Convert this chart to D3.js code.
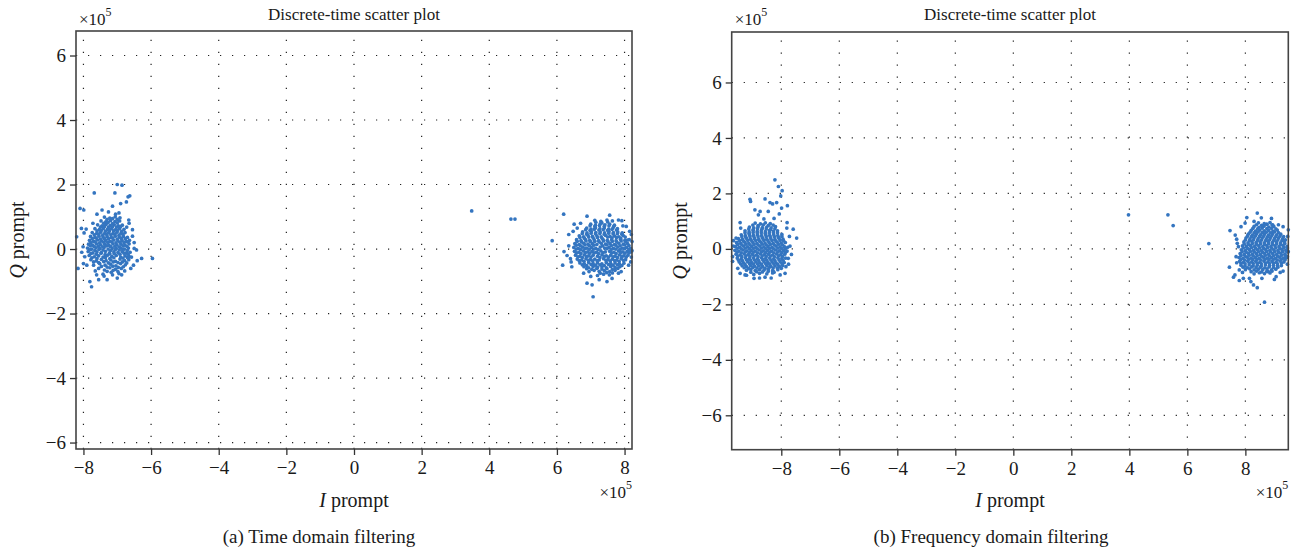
<!DOCTYPE html>
<html><head><meta charset="utf-8">
<script src="https://cdn.jsdelivr.net/npm/d3@7"></script>
<style>
body{margin:0;background:#fff}
svg{display:block}
text{font-family:"Liberation Serif","DejaVu Serif",serif;fill:#1a1a1a}
</style>
</head><body>
<svg id="c" width="1298" height="555"></svg>
<script>
const xTicks = [-8,-6,-4,-2,0,2,4,6,8];
const yTicks = [-6,-4,-2,0,2,4,6];
const titleText = "Discrete-time scatter plot";
const captions = ["(a) Time domain filtering", "(b) Frequency domain filtering"];

const timeLeft = [
[-7.42,-0.78],[-7.18,-0.72],[-6.95,-0.76],
[-7.55,-0.6],[-7.38,-0.65],[-7.22,-0.58],[-7.05,-0.63],[-6.88,-0.6],
[-7.7,-0.5],[-7.52,-0.45],[-7.36,-0.5],[-7.2,-0.47],[-7.04,-0.52],[-6.9,-0.45],[-6.76,-0.49],
[-7.78,-0.33],[-7.62,-0.37],[-7.47,-0.32],[-7.33,-0.36],[-7.19,-0.34],[-7.05,-0.38],[-6.92,-0.31],[-6.78,-0.36],[-6.66,-0.33],
[-7.83,-0.2],[-7.68,-0.24],[-7.55,-0.21],[-7.42,-0.25],[-7.29,-0.19],[-7.16,-0.23],[-7.03,-0.2],[-6.9,-0.25],[-6.77,-0.21],[-6.65,-0.23],
[-7.86,-0.08],[-7.72,-0.12],[-7.6,-0.09],[-7.47,-0.11],[-7.35,-0.07],[-7.23,-0.12],[-7.1,-0.09],[-6.98,-0.11],[-6.85,-0.08],[-6.73,-0.12],[-6.62,-0.1],
[-7.88,0.03],[-7.75,0.0],[-7.63,0.04],[-7.51,0.01],[-7.39,0.05],[-7.27,0.0],[-7.15,0.03],[-7.03,0.01],[-6.91,0.04],[-6.79,0.0],[-6.67,0.03],
[-7.85,0.15],[-7.73,0.12],[-7.61,0.16],[-7.49,0.13],[-7.37,0.15],[-7.25,0.12],[-7.13,0.16],[-7.01,0.13],[-6.89,0.15],[-6.77,0.12],[-6.65,0.16],
[-7.82,0.27],[-7.7,0.24],[-7.58,0.28],[-7.46,0.25],[-7.34,0.27],[-7.22,0.24],[-7.1,0.28],[-6.98,0.25],[-6.86,0.27],[-6.74,0.24],[-6.64,0.27],
[-7.79,0.39],[-7.66,0.36],[-7.54,0.4],[-7.42,0.37],[-7.3,0.39],[-7.18,0.36],[-7.06,0.4],[-6.94,0.37],[-6.82,0.39],[-6.7,0.36],
[-7.74,0.51],[-7.61,0.48],[-7.49,0.52],[-7.37,0.49],[-7.25,0.51],[-7.13,0.48],[-7.01,0.52],[-6.89,0.49],[-6.77,0.51],
[-7.66,0.63],[-7.53,0.6],[-7.41,0.64],[-7.29,0.61],[-7.17,0.63],[-7.05,0.6],[-6.93,0.64],[-6.8,0.61],
[-7.58,0.75],[-7.45,0.72],[-7.33,0.76],[-7.21,0.73],[-7.09,0.75],[-6.97,0.72],[-6.85,0.74],
[-7.48,0.87],[-7.34,0.84],[-7.2,0.88],[-7.07,0.85],[-6.93,0.87],
[-7.38,0.99],[-7.22,0.96],[-7.06,1.0],[-6.92,0.97],
[-7.0,2.0],[-6.86,1.98],[-7.68,1.74],[-7.07,1.74],[-6.68,1.62],[-6.63,1.65],[-6.73,1.46],[-6.9,1.41],[-7.14,1.33],[-8.1,1.26],[-7.99,1.21],[-7.45,1.21],[-7.26,1.15],[-6.95,1.12],[-7.6,1.08],
[-8.2,0.38],[-8.06,0.64],[-8.01,0.07],[-8.16,-0.6],[-7.96,-0.24],[-7.98,0.5],[-8.0,-0.45],
[-6.43,-0.03],[-6.28,-0.29],[-6.41,-0.36],[-5.96,-0.29],[-6.66,0.9],[-6.65,0.8],[-6.5,0.2],[-6.52,-0.5],[-6.55,0.6],
[-7.81,-1.01],[-7.76,-1.17],[-7.61,-0.8],[-7.39,-0.84],[-7.14,-0.8],[-6.87,-0.8],[-6.6,-0.6],[-7.0,-0.9],[-7.55,-0.95],
[-7.92,0.62],[-7.9,-0.5],[-7.65,-0.68],[-6.55,0.4],[-6.58,-0.25],[-6.72,0.68],[-7.72,0.8],[-7.05,1.08],[-6.78,-0.68],[-7.3,-0.95],[-8.05,-0.1],[-6.5,0.02]
];
const timeLeftDense = [
[-7.3,-0.69],[-7.12,-0.66],[-6.98,-0.7],
[-7.47,-0.54],[-7.3,-0.56],[-7.13,-0.53],[-6.97,-0.57],[-6.82,-0.55],
[-7.7,-0.4],[-7.55,-0.42],[-7.4,-0.39],[-7.26,-0.43],[-7.12,-0.4],[-6.98,-0.42],[-6.85,-0.4],[-6.72,-0.43],
[-7.75,-0.27],[-7.6,-0.29],[-7.35,-0.26],[-7.22,-0.3],[-7.1,-0.27],[-6.83,-0.28],[-6.7,-0.26],
[-7.78,-0.14],[-7.62,-0.16],[-7.48,-0.13],[-7.36,-0.17],[-7.22,-0.15],[-7.09,-0.14],[-6.92,-0.16],[-6.8,-0.13],[-6.68,-0.16],
[-7.8,-0.02],[-7.66,-0.04],[-7.54,-0.01],[-7.42,-0.03],[-7.19,-0.04],[-7.06,-0.02],[-6.94,-0.03],[-6.84,0.0],[-6.7,-0.04],
[-7.8,0.1],[-7.68,0.08],[-7.56,0.09],[-7.43,0.07],[-7.32,0.1],[-7.2,0.08],[-7.07,0.09],[-6.95,0.07],[-6.83,0.1],[-6.71,0.08],
[-7.78,0.2],[-7.65,0.22],[-7.52,0.19],[-7.4,0.21],[-7.28,0.2],[-7.16,0.22],[-7.04,0.19],[-6.92,0.21],[-6.8,0.2],[-6.69,0.22],
[-7.74,0.32],[-7.62,0.34],[-7.5,0.31],[-7.38,0.33],[-7.26,0.32],[-7.14,0.34],[-7.0,0.31],[-6.88,0.33],[-6.76,0.32],
[-7.68,0.44],[-7.55,0.46],[-7.43,0.43],[-7.31,0.45],[-7.19,0.44],[-7.07,0.46],[-6.95,0.43],[-6.83,0.45],
[-7.6,0.56],[-7.47,0.58],[-7.35,0.55],[-7.23,0.57],[-7.11,0.56],[-6.99,0.58],[-6.87,0.55],
[-7.5,0.68],[-7.38,0.7],[-7.26,0.67],[-7.14,0.69],[-7.02,0.68],[-6.9,0.7],
[-7.4,0.8],[-7.27,0.82],[-7.14,0.79],[-7.0,0.81],
[-7.3,0.92],[-7.14,0.94],[-7.0,0.92]
];

const timeRight = [
[7.2,-0.82],[7.38,-0.78],[7.55,-0.8],
[6.95,-0.7],[7.1,-0.66],[7.25,-0.69],[7.4,-0.67],[7.56,-0.7],[7.72,-0.66],
[6.8,-0.55],[6.94,-0.58],[7.07,-0.54],[7.2,-0.57],[7.33,-0.55],[7.46,-0.58],[7.59,-0.54],[7.72,-0.57],[7.86,-0.55],
[6.68,-0.43],[6.81,-0.46],[6.94,-0.42],[7.07,-0.45],[7.2,-0.43],[7.33,-0.46],[7.46,-0.42],[7.59,-0.45],[7.72,-0.43],[7.85,-0.46],[7.98,-0.44],
[6.6,-0.31],[6.73,-0.34],[6.86,-0.3],[6.99,-0.33],[7.12,-0.31],[7.25,-0.34],[7.38,-0.3],[7.51,-0.33],[7.64,-0.31],[7.77,-0.34],[7.9,-0.3],[8.03,-0.33],
[6.55,-0.19],[6.68,-0.22],[6.81,-0.18],[6.94,-0.21],[7.07,-0.19],[7.2,-0.22],[7.33,-0.18],[7.46,-0.21],[7.59,-0.19],[7.72,-0.22],[7.85,-0.18],[7.98,-0.21],[8.1,-0.19],
[6.52,-0.07],[6.65,-0.1],[6.78,-0.06],[6.91,-0.09],[7.04,-0.07],[7.17,-0.1],[7.3,-0.06],[7.43,-0.09],[7.56,-0.07],[7.69,-0.1],[7.82,-0.06],[7.95,-0.09],[8.08,-0.07],[8.18,-0.09],
[6.5,0.05],[6.63,0.02],[6.76,0.06],[6.89,0.03],[7.02,0.05],[7.15,0.02],[7.28,0.06],[7.41,0.03],[7.54,0.05],[7.67,0.02],[7.8,0.06],[7.93,0.03],[8.06,0.05],[8.18,0.02],
[6.53,0.17],[6.66,0.14],[6.79,0.18],[6.92,0.15],[7.05,0.17],[7.18,0.14],[7.31,0.18],[7.44,0.15],[7.57,0.17],[7.7,0.14],[7.83,0.18],[7.96,0.15],[8.09,0.17],
[6.58,0.29],[6.71,0.26],[6.84,0.3],[6.97,0.27],[7.1,0.29],[7.23,0.26],[7.36,0.3],[7.49,0.27],[7.62,0.29],[7.75,0.26],[7.88,0.3],[8.01,0.27],[8.14,0.29],
[6.66,0.41],[6.79,0.38],[6.92,0.42],[7.05,0.39],[7.18,0.41],[7.31,0.38],[7.44,0.42],[7.57,0.39],[7.7,0.41],[7.83,0.38],[7.96,0.42],
[6.76,0.53],[6.89,0.5],[7.02,0.54],[7.15,0.51],[7.28,0.53],[7.41,0.5],[7.54,0.54],[7.67,0.51],[7.8,0.53],[7.93,0.5],
[6.88,0.65],[7.01,0.62],[7.14,0.66],[7.27,0.63],[7.4,0.65],[7.53,0.62],[7.66,0.66],[7.79,0.63],
[7.0,0.77],[7.14,0.74],[7.28,0.78],[7.42,0.75],[7.56,0.77],[7.7,0.74],
[7.12,0.89],[7.3,0.86],[7.48,0.9],[7.64,0.87],
[6.2,1.08],[6.89,1.02],[7.56,1.05],[7.92,0.88],[6.51,0.77],[6.21,-0.08],[6.17,-0.5],[6.44,-0.55],[8.12,-0.5],[8.22,0.23],[8.09,0.28],[6.79,-0.75],[6.89,-1.06],[7.04,-1.11],[7.48,-1.01],[7.63,-0.91],[7.07,-1.48],[6.35,0.45],[6.4,-0.3],[8.15,0.55],[8.2,-0.25],[7.9,-0.7],[6.6,0.65],[7.25,-0.95],[8.05,0.7],
[6.35,0.1],[6.42,-0.4],[6.48,0.55],[8.2,0.45],[8.18,-0.4],[7.95,0.72],[7.82,-0.75],[7.0,-0.85],[6.7,0.8],[7.82,0.9],[8.22,-0.05],[6.3,-0.2]
];
const timeRightDense = [
[7.28,-0.75],[7.47,-0.73],[7.64,-0.74],
[6.88,-0.61],[7.03,-0.63],[7.18,-0.6],[7.33,-0.62],[7.48,-0.61],[7.64,-0.63],[7.8,-0.6],
[6.75,-0.49],[6.88,-0.51],[7.01,-0.48],[7.14,-0.5],[7.27,-0.49],[7.4,-0.51],[7.53,-0.48],[7.66,-0.5],[7.79,-0.49],[7.92,-0.51],
[6.66,-0.36],[6.8,-0.38],[6.93,-0.35],[7.06,-0.37],[7.19,-0.36],[7.45,-0.35],[7.58,-0.37],[7.71,-0.36],[7.84,-0.38],[7.97,-0.35],
[6.62,-0.24],[6.75,-0.26],[6.88,-0.23],[7.01,-0.25],[7.27,-0.26],[7.4,-0.23],[7.53,-0.25],[7.66,-0.24],[7.79,-0.26],[7.92,-0.23],[8.05,-0.25],
[6.58,-0.12],[6.71,-0.14],[6.84,-0.11],[6.97,-0.13],[7.1,-0.12],[7.23,-0.14],[7.36,-0.11],[7.62,-0.12],[7.75,-0.14],[7.88,-0.11],[8.01,-0.13],[8.13,-0.12],
[6.57,0.0],[6.7,-0.02],[6.83,0.01],[6.96,-0.01],[7.09,0.0],[7.22,-0.02],[7.48,0.01],[7.61,-0.01],[7.74,0.0],[7.87,-0.02],[8.0,0.01],[8.13,-0.01],
[6.57,0.12],[6.7,0.1],[6.83,0.13],[6.96,0.11],[7.09,0.12],[7.35,0.1],[7.48,0.13],[7.61,0.11],[7.74,0.12],[7.87,0.1],[8.0,0.13],[8.13,0.11],
[6.6,0.24],[6.73,0.22],[6.86,0.25],[6.99,0.23],[7.12,0.24],[7.25,0.22],[7.38,0.25],[7.51,0.23],[7.64,0.24],[7.77,0.22],[7.9,0.25],[8.03,0.23],
[6.68,0.36],[6.81,0.34],[6.94,0.37],[7.07,0.35],[7.2,0.36],[7.33,0.34],[7.5,0.37],[7.63,0.35],[7.76,0.36],[7.89,0.34],[8.02,0.37],
[6.75,0.48],[6.88,0.46],[7.01,0.49],[7.14,0.47],[7.27,0.48],[7.4,0.46],[7.53,0.49],[7.66,0.47],[7.79,0.48],[7.92,0.46],
[6.85,0.6],[6.98,0.58],[7.11,0.61],[7.24,0.59],[7.37,0.6],[7.5,0.58],[7.63,0.61],[7.76,0.59],
[6.98,0.72],[7.12,0.7],[7.26,0.73],[7.4,0.71],[7.54,0.72],[7.68,0.7],
[7.15,0.83],[7.33,0.81],[7.5,0.84]
];

const timeOutliers = [[3.48,1.18],[4.64,0.93],[4.76,0.93],[5.86,0.26]];

const freqLeft = [
[-8.95,-0.92],[-8.75,-0.88],[-8.5,-0.9],[-8.3,-0.87],
[-9.2,-0.77],[-9.05,-0.74],[-8.9,-0.78],[-8.75,-0.75],[-8.6,-0.77],[-8.45,-0.74],[-8.3,-0.78],[-8.12,-0.75],
[-9.35,-0.61],[-9.2,-0.64],[-9.06,-0.6],[-8.92,-0.63],[-8.78,-0.61],[-8.64,-0.64],[-8.5,-0.6],[-8.36,-0.63],[-8.22,-0.61],[-8.06,-0.64],[-7.95,-0.6],
[-9.45,-0.47],[-9.3,-0.5],[-9.16,-0.46],[-9.02,-0.49],[-8.88,-0.47],[-8.74,-0.5],[-8.6,-0.46],[-8.46,-0.49],[-8.32,-0.47],[-8.18,-0.5],[-8.04,-0.46],[-7.9,-0.49],
[-9.52,-0.33],[-9.38,-0.36],[-9.24,-0.32],[-9.1,-0.35],[-8.96,-0.33],[-8.82,-0.36],[-8.68,-0.32],[-8.54,-0.35],[-8.4,-0.33],[-8.26,-0.36],[-8.12,-0.32],[-7.98,-0.35],[-7.85,-0.33],
[-9.56,-0.19],[-9.42,-0.22],[-9.28,-0.18],[-9.14,-0.21],[-9.0,-0.19],[-8.86,-0.22],[-8.72,-0.18],[-8.58,-0.21],[-8.44,-0.19],[-8.3,-0.22],[-8.16,-0.18],[-8.02,-0.21],[-7.88,-0.19],
[-9.6,-0.05],[-9.46,-0.08],[-9.32,-0.04],[-9.18,-0.07],[-9.04,-0.05],[-8.9,-0.08],[-8.76,-0.04],[-8.62,-0.07],[-8.48,-0.05],[-8.34,-0.08],[-8.2,-0.04],[-8.06,-0.07],[-7.92,-0.05],[-7.8,-0.08],
[-9.58,0.09],[-9.44,0.06],[-9.3,0.1],[-9.16,0.07],[-9.02,0.09],[-8.88,0.06],[-8.74,0.1],[-8.6,0.07],[-8.46,0.09],[-8.32,0.06],[-8.18,0.1],[-8.04,0.07],[-7.9,0.09],[-7.78,0.06],
[-9.54,0.23],[-9.4,0.2],[-9.26,0.24],[-9.12,0.21],[-8.98,0.23],[-8.84,0.2],[-8.7,0.24],[-8.56,0.21],[-8.42,0.23],[-8.28,0.2],[-8.14,0.24],[-8.0,0.21],[-7.86,0.23],
[-9.48,0.37],[-9.34,0.34],[-9.2,0.38],[-9.06,0.35],[-8.92,0.37],[-8.78,0.34],[-8.64,0.38],[-8.5,0.35],[-8.36,0.37],[-8.22,0.34],[-8.08,0.38],[-7.94,0.35],
[-9.38,0.51],[-9.24,0.48],[-9.1,0.52],[-8.96,0.49],[-8.82,0.51],[-8.68,0.48],[-8.54,0.52],[-8.4,0.49],[-8.26,0.51],[-8.12,0.48],[-7.98,0.52],
[-9.25,0.65],[-9.11,0.62],[-8.97,0.66],[-8.83,0.63],[-8.69,0.65],[-8.55,0.62],[-8.41,0.66],[-8.27,0.63],[-8.13,0.65],
[-9.1,0.79],[-8.95,0.76],[-8.8,0.8],[-8.65,0.77],[-8.5,0.79],[-8.35,0.76],[-8.2,0.8],
[-8.9,0.93],[-8.72,0.9],[-8.55,0.94],[-8.38,0.91],
[-8.22,2.49],[-8.1,2.25],[-7.97,2.1],[-8.02,1.91],[-9.08,1.79],[-9.06,1.71],[-8.56,1.8],[-7.79,1.56],[-8.39,1.67],[-8.3,1.62],[-8.16,1.67],[-7.99,1.47],[-8.91,1.41],[-8.73,1.35],[-8.45,1.35],[-8.07,1.26],[-9.42,0.95],[-8.79,1.23],[-8.25,1.1],[-8.6,1.08],
[-7.81,0.75],[-7.59,0.71],[-7.47,0.39],[-9.68,-0.28],[-7.76,-0.34],[-7.84,-0.64],[-8.94,-1.06],[-8.56,-1.02],[-9.42,-0.88],[-9.25,-0.94],[-9.56,0.39],[-9.54,0.23],[-7.87,-0.88],[-8.04,-0.94],[-8.28,-0.82],[-7.7,0.1],[-9.66,0.1],[-8.75,-1.05],
[-9.68,-0.45],[-9.65,0.3],[-7.75,-0.55],[-7.72,0.45],[-9.4,0.75],[-9.5,-0.7],[-7.8,0.95],[-9.2,-0.95],[-8.35,-1.05],[-7.65,-0.2]
];
const freqLeftDense = [
[-9.05,-0.84],[-8.85,-0.82],[-8.65,-0.83],[-8.45,-0.81],[-8.25,-0.84],
[-9.28,-0.68],[-9.13,-0.7],[-8.98,-0.67],[-8.84,-0.69],[-8.7,-0.68],[-8.56,-0.7],[-8.42,-0.67],[-8.28,-0.69],[-8.14,-0.68],[-8.0,-0.7],
[-9.4,-0.54],[-9.25,-0.56],[-9.1,-0.53],[-8.96,-0.55],[-8.82,-0.54],[-8.68,-0.56],[-8.54,-0.53],[-8.4,-0.55],[-8.26,-0.54],[-8.12,-0.56],[-7.98,-0.53],
[-9.48,-0.4],[-9.34,-0.42],[-9.2,-0.39],[-9.06,-0.41],[-8.92,-0.4],[-8.78,-0.42],[-8.64,-0.39],[-8.5,-0.41],[-8.36,-0.4],[-8.22,-0.42],[-8.08,-0.39],[-7.94,-0.41],
[-9.5,-0.26],[-9.36,-0.28],[-9.22,-0.25],[-9.08,-0.27],[-8.94,-0.26],[-8.8,-0.28],[-8.66,-0.25],[-8.52,-0.27],[-8.38,-0.26],[-8.24,-0.28],[-8.1,-0.25],[-7.96,-0.27],
[-9.52,-0.12],[-9.38,-0.14],[-9.24,-0.11],[-9.1,-0.13],[-8.96,-0.12],[-8.82,-0.14],[-8.68,-0.11],[-8.54,-0.13],[-8.4,-0.12],[-8.26,-0.14],[-8.12,-0.11],[-7.98,-0.13],[-7.85,-0.12],
[-9.52,0.02],[-9.38,0.0],[-9.24,0.03],[-9.1,0.01],[-8.96,0.02],[-8.82,0.0],[-8.68,0.03],[-8.54,0.01],[-8.4,0.02],[-8.26,0.0],[-8.12,0.03],[-7.98,0.01],[-7.85,0.02],
[-9.5,0.16],[-9.36,0.14],[-9.22,0.17],[-9.08,0.15],[-8.94,0.16],[-8.8,0.14],[-8.66,0.17],[-8.52,0.15],[-8.38,0.16],[-8.24,0.14],[-8.1,0.17],[-7.96,0.15],
[-9.44,0.3],[-9.3,0.28],[-9.16,0.31],[-9.02,0.29],[-8.88,0.3],[-8.74,0.28],[-8.6,0.31],[-8.46,0.29],[-8.32,0.3],[-8.18,0.28],[-8.04,0.31],[-7.92,0.29],
[-9.36,0.44],[-9.22,0.42],[-9.08,0.45],[-8.94,0.43],[-8.8,0.44],[-8.66,0.42],[-8.52,0.45],[-8.38,0.43],[-8.24,0.44],[-8.1,0.42],[-7.98,0.45],
[-9.25,0.58],[-9.11,0.56],[-8.97,0.59],[-8.83,0.57],[-8.69,0.58],[-8.55,0.56],[-8.41,0.59],[-8.27,0.57],[-8.13,0.58],
[-9.12,0.72],[-8.97,0.7],[-8.82,0.73],[-8.67,0.71],[-8.52,0.72],[-8.37,0.7],[-8.22,0.73],
[-8.98,0.86],[-8.8,0.84],[-8.62,0.87],[-8.44,0.85],[-8.28,0.86]
];

const freqRight = [
[8.3,-0.9],[8.48,-0.86],[8.66,-0.89],[8.85,-0.87],
[8.0,-0.75],[8.15,-0.72],[8.3,-0.76],[8.45,-0.73],[8.6,-0.75],[8.75,-0.72],[8.9,-0.76],[9.05,-0.73],
[7.85,-0.59],[7.99,-0.62],[8.13,-0.58],[8.27,-0.61],[8.41,-0.59],[8.55,-0.62],[8.69,-0.58],[8.83,-0.61],[8.97,-0.59],[9.11,-0.62],[9.24,-0.6],
[7.8,-0.45],[7.94,-0.48],[8.08,-0.44],[8.22,-0.47],[8.36,-0.45],[8.5,-0.48],[8.64,-0.44],[8.78,-0.47],[8.92,-0.45],[9.06,-0.48],[9.2,-0.44],[9.33,-0.47],
[7.78,-0.31],[7.92,-0.34],[8.06,-0.3],[8.2,-0.33],[8.34,-0.31],[8.48,-0.34],[8.62,-0.3],[8.76,-0.33],[8.9,-0.31],[9.04,-0.34],[9.18,-0.3],[9.32,-0.33],[9.42,-0.31],
[7.82,-0.17],[7.96,-0.2],[8.1,-0.16],[8.24,-0.19],[8.38,-0.17],[8.52,-0.2],[8.66,-0.16],[8.8,-0.19],[8.94,-0.17],[9.08,-0.2],[9.22,-0.16],[9.36,-0.19],
[7.86,-0.03],[8.0,-0.06],[8.14,-0.02],[8.28,-0.05],[8.42,-0.03],[8.56,-0.06],[8.7,-0.02],[8.84,-0.05],[8.98,-0.03],[9.12,-0.06],[9.26,-0.02],[9.4,-0.05],
[7.9,0.11],[8.04,0.08],[8.18,0.12],[8.32,0.09],[8.46,0.11],[8.6,0.08],[8.74,0.12],[8.88,0.09],[9.02,0.11],[9.16,0.08],[9.3,0.12],[9.44,0.09],
[7.95,0.25],[8.09,0.22],[8.23,0.26],[8.37,0.23],[8.51,0.25],[8.65,0.22],[8.79,0.26],[8.93,0.23],[9.07,0.25],[9.21,0.22],[9.35,0.26],
[8.02,0.39],[8.16,0.36],[8.3,0.4],[8.44,0.37],[8.58,0.39],[8.72,0.36],[8.86,0.4],[9.0,0.37],[9.14,0.39],[9.28,0.36],
[8.1,0.53],[8.24,0.5],[8.38,0.54],[8.52,0.51],[8.66,0.53],[8.8,0.5],[8.94,0.54],[9.08,0.51],[9.22,0.53],
[8.2,0.67],[8.35,0.64],[8.5,0.68],[8.65,0.65],[8.8,0.67],[8.95,0.64],[9.1,0.68],
[8.3,0.81],[8.47,0.78],[8.64,0.82],[8.81,0.79],[8.98,0.81],
[8.45,0.94],[8.65,0.91],[8.85,0.95],
[7.47,0.66],[7.45,-0.66],[8.41,1.29],[8.05,1.13],[8.66,-1.92],[8.41,-1.4],[7.68,-0.28],[7.76,0.08],[7.79,-0.76],[7.64,-0.94],[7.59,-1.02],[7.79,-1.14],[7.93,-1.06],[8.14,-1.06],[8.19,-1.18],[8.79,-0.82],[9.06,-1.0],[9.14,0.87],[8.94,0.87],[8.74,0.89],[8.3,0.99],[7.99,0.93],[9.48,0.69],[9.45,-0.28],[9.48,-0.1],[8.28,-1.3],[8.57,-1.06],[7.7,0.35],[9.3,-0.8],[8.9,1.1],
[7.7,-0.5],[7.65,0.5],[7.72,0.2],[9.46,0.45],[9.45,-0.55],[9.3,0.8],[9.2,-0.85],[7.9,-0.85],[7.85,0.8],[8.55,1.12],[9.0,-1.1]
];
const freqRightDense = [
[8.2,-0.82],[8.38,-0.8],[8.56,-0.83],[8.74,-0.81],[8.92,-0.8],
[7.92,-0.66],[8.07,-0.68],[8.22,-0.65],[8.37,-0.67],[8.52,-0.66],[8.67,-0.68],[8.82,-0.65],[8.97,-0.67],[9.12,-0.66],
[7.85,-0.52],[7.99,-0.54],[8.13,-0.51],[8.27,-0.53],[8.41,-0.52],[8.55,-0.54],[8.69,-0.51],[8.83,-0.53],[8.97,-0.52],[9.11,-0.54],[9.25,-0.51],
[7.84,-0.38],[7.98,-0.4],[8.12,-0.37],[8.26,-0.39],[8.4,-0.38],[8.54,-0.4],[8.68,-0.37],[8.82,-0.39],[8.96,-0.38],[9.1,-0.4],[9.24,-0.37],[9.37,-0.39],
[7.85,-0.24],[7.99,-0.26],[8.13,-0.23],[8.27,-0.25],[8.41,-0.24],[8.55,-0.26],[8.69,-0.23],[8.83,-0.25],[8.97,-0.24],[9.11,-0.26],[9.25,-0.23],[9.39,-0.25],
[7.89,-0.1],[8.03,-0.12],[8.17,-0.09],[8.31,-0.11],[8.45,-0.1],[8.59,-0.12],[8.73,-0.09],[8.87,-0.11],[9.01,-0.1],[9.15,-0.12],[9.29,-0.09],[9.43,-0.11],
[7.93,0.04],[8.07,0.02],[8.21,0.05],[8.35,0.03],[8.49,0.04],[8.63,0.02],[8.77,0.05],[8.91,0.03],[9.05,0.04],[9.19,0.02],[9.33,0.05],[9.45,0.03],
[7.96,0.18],[8.1,0.16],[8.24,0.19],[8.38,0.17],[8.52,0.18],[8.66,0.16],[8.8,0.19],[8.94,0.17],[9.08,0.18],[9.22,0.16],[9.36,0.19],
[8.0,0.32],[8.14,0.3],[8.28,0.33],[8.42,0.31],[8.56,0.32],[8.7,0.3],[8.84,0.33],[8.98,0.31],[9.12,0.32],[9.26,0.3],[9.38,0.33],
[8.07,0.46],[8.21,0.44],[8.35,0.47],[8.49,0.45],[8.63,0.46],[8.77,0.44],[8.91,0.47],[9.05,0.45],[9.19,0.46],[9.32,0.44],
[8.16,0.6],[8.3,0.58],[8.44,0.61],[8.58,0.59],[8.72,0.6],[8.86,0.58],[9.0,0.61],[9.14,0.59],
[8.26,0.74],[8.42,0.72],[8.58,0.75],[8.74,0.73],[8.9,0.74],[9.05,0.72],
[8.38,0.87],[8.56,0.85],[8.74,0.88],[8.92,0.86]
];

const freqOutliers = [[3.97,1.23],[5.33,1.23],[5.51,0.84],[6.74,0.19]];

const panels = [
  {x0:76, x1:632, y0:31, y1:449, xDom:[-8.22,8.22], yDom:[-6.2,6.76],
   data: timeLeft.concat(timeLeftDense, timeOutliers, timeRight, timeRightDense),
   caption: captions[0], capX:319, ylabX:24},
  {x0:731.7, x1:1288.3, y0:32, y1:449.7, xDom:[-9.71,9.48], yDom:[-7.24,7.82],
   data: freqLeft.concat(freqLeftDense, freqOutliers, freqRight, freqRightDense),
   caption: captions[1], capX:991, ylabX:687}
];

const svg = d3.select("#c");
const dotColor = "#3475c0";
const serif = '"Liberation Serif","DejaVu Serif",serif';

panels.forEach((p) => {
  const x = d3.scaleLinear().domain(p.xDom).range([p.x0, p.x1]);
  const y = d3.scaleLinear().domain(p.yDom).range([p.y1, p.y0]);
  const g = svg.append("g");

  // grid
  g.append("g").selectAll("line").data(xTicks).join("line")
    .attr("x1", d => x(d)).attr("x2", d => x(d))
    .attr("y1", p.y1).attr("y2", p.y0)
    .attr("stroke", "#222").attr("stroke-width", 1.2)
    .attr("stroke-dasharray", "1.2,10.8");
  g.append("g").selectAll("line").data(yTicks).join("line")
    .attr("x1", p.x0).attr("x2", p.x1)
    .attr("y1", d => y(d)).attr("y2", d => y(d))
    .attr("stroke", "#222").attr("stroke-width", 1.2)
    .attr("stroke-dasharray", "1.2,10.8");

  // points
  g.append("g").selectAll("circle").data(p.data).join("circle")
    .attr("cx", d => x(d[0])).attr("cy", d => y(d[1]))
    .attr("r", 1.85).attr("fill", dotColor);

  // frame
  g.append("rect").attr("x", p.x0).attr("y", p.y0)
    .attr("width", p.x1 - p.x0).attr("height", p.y1 - p.y0)
    .attr("fill", "none").attr("stroke", "#444").attr("stroke-width", 1.6);

  // axes
  const ax = g.append("g").attr("transform", `translate(0,${p.y1})`)
    .call(d3.axisBottom(x).tickValues(xTicks).tickSize(6).tickPadding(6).tickFormat(d3.format("d")));
  const ay = g.append("g").attr("transform", `translate(${p.x0},0)`)
    .call(d3.axisLeft(y).tickValues(yTicks).tickSize(6).tickPadding(4).tickFormat(d3.format("d")));
  [ax, ay].forEach(a => {
    a.attr("font-family", null).attr("font-size", null);
    a.select(".domain").remove();
    a.selectAll(".tick line").attr("stroke", "#333").attr("stroke-width", 1.3);
    a.selectAll(".tick text").style("font-family", serif)
      .style("font-size", "19px").attr("fill", "#1a1a1a");
  });

  const cx = (p.x0 + p.x1) / 2;
  // title
  g.append("text").attr("x", cx).attr("y", 20).attr("text-anchor", "middle")
    .style("font-size", "17px").text(titleText);

  // x10^5 top
  const t1 = g.append("text").attr("x", p.x0 + 3).attr("y", 25).style("font-size", "17px");
  t1.append("tspan").text("×10");
  t1.append("tspan").attr("dy", -9).style("font-size", "12px").text("5");

  // x10^5 bottom right
  const t2 = g.append("text").attr("x", p.x1).attr("y", 498).attr("text-anchor", "end").style("font-size", "17px");
  t2.append("tspan").text("×10");
  t2.append("tspan").attr("dy", -9).style("font-size", "12px").text("5");

  // x label
  const xl = g.append("text").attr("x", cx).attr("y", 507).attr("text-anchor", "middle").style("font-size", "20px");
  xl.append("tspan").style("font-style", "italic").text("I");
  xl.append("tspan").text(" prompt");

  // y label
  const yl = g.append("text").attr("transform", `translate(${p.ylabX},${(p.y0 + p.y1) / 2}) rotate(-90)`)
    .attr("text-anchor", "middle").style("font-size", "20px");
  yl.append("tspan").style("font-style", "italic").text("Q");
  yl.append("tspan").text(" prompt");

  // caption
  g.append("text").attr("x", p.capX).attr("y", 543).attr("text-anchor", "middle")
    .style("font-size", "19px").text(p.caption);
});
</script>
</body></html>
